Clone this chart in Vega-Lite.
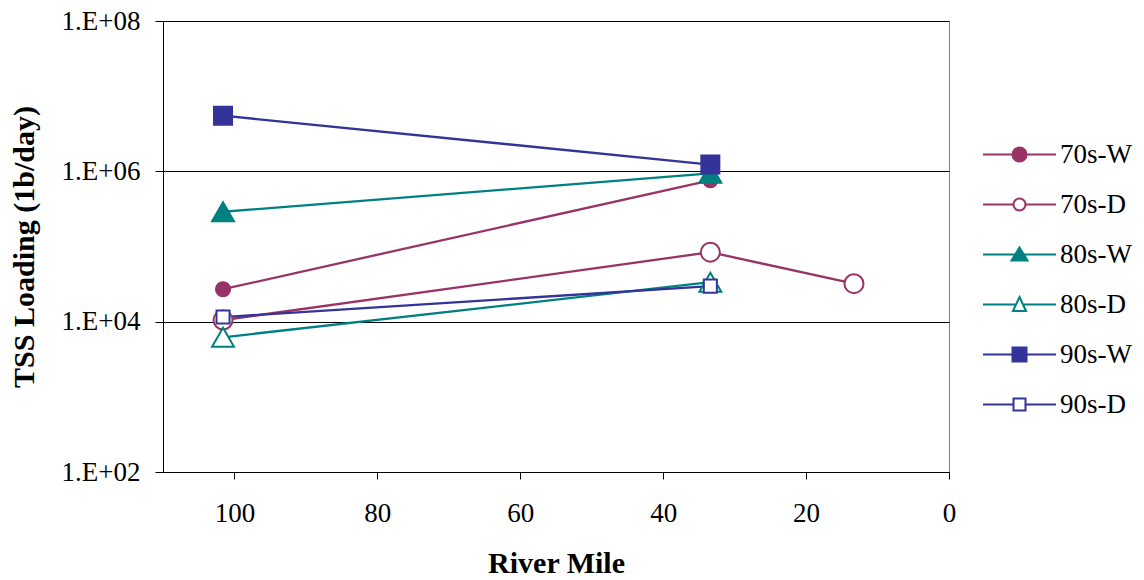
{
  "$schema": "https://vega.github.io/schema/vega-lite/v6.json",
  "autosize": "none",
  "width": 786,
  "height": 451,
  "padding": {"left": 163, "top": 21, "right": 195, "bottom": 108},
  "background": "white",
  "config": {
    "view": {"stroke": "#808080", "strokeWidth": 1},
    "font": "Liberation Serif, Times New Roman, serif",
    "axis": {
      "labelFont": "Liberation Serif, Times New Roman, serif",
      "labelFontSize": 27,
      "labelColor": "black",
      "titleFont": "Liberation Serif, Times New Roman, serif",
      "titleFontSize": 30,
      "titleFontWeight": "bold",
      "titleColor": "black",
      "domainColor": "black",
      "domainWidth": 1,
      "tickColor": "black",
      "tickWidth": 1,
      "labelFlush": false,
      "labelOverlap": false
    },
    "legend": {
      "labelFont": "Liberation Serif, Times New Roman, serif"
    }
  },
  "data": {
    "values": [
      {"series": "70s-W", "mile": 101.6, "load": 27000},
      {"series": "70s-W", "mile": 33.4, "load": 760000},
      {"series": "70s-D", "mile": 101.6, "load": 10500},
      {"series": "70s-D", "mile": 33.4, "load": 84000},
      {"series": "70s-D", "mile": 13.3, "load": 32000},
      {"series": "80s-W", "mile": 101.6, "load": 290000},
      {"series": "80s-W", "mile": 33.4, "load": 940000},
      {"series": "80s-D", "mile": 101.6, "load": 6200},
      {"series": "80s-D", "mile": 33.4, "load": 33500},
      {"series": "90s-W", "mile": 101.6, "load": 5500000},
      {"series": "90s-W", "mile": 33.4, "load": 1230000},
      {"series": "90s-D", "mile": 101.6, "load": 11500},
      {"series": "90s-D", "mile": 33.4, "load": 29700}
    ]
  },
  "encoding": {
    "x": {
      "field": "mile",
      "type": "quantitative",
      "scale": {"domain": [0, 110], "reverse": true, "nice": false, "zero": false},
      "axis": {
        "title": "River Mile",
        "values": [0, 20, 40, 60, 80, 100],
        "format": "d",
        "grid": false,
        "tickSize": 7,
        "labelPadding": 21,
        "titlePadding": 22
      }
    },
    "y": {
      "field": "load",
      "type": "quantitative",
      "scale": {"type": "log", "domain": [100, 100000000], "nice": false},
      "axis": {
        "title": "TSS Loading (1b/day)",
        "values": [100, 10000, 1000000, 100000000],
        "labelExpr": "'1.E+' + format(round(log(datum.value)/LN10), '02d')",
        "grid": true,
        "gridColor": "black",
        "gridOpacity": 1,
        "gridWidth": 1,
        "tickSize": 8,
        "labelPadding": 15,
        "titlePadding": 22
      }
    }
  },
  "layer": [
    {
      "transform": [{"filter": "false"}],
      "mark": {"type": "point", "filled": true, "strokeWidth": 2, "opacity": 1},
      "encoding": {
        "shape": {
          "field": "series",
          "type": "nominal",
          "scale": {"domain": ["70s-W", "70s-D", "80s-W", "80s-D", "90s-W", "90s-D"], "range": [
            "M-3.65,0H-0.7M0.7,0H3.65M-0.7,0A0.7,0.7,0,1,1,0.7,0A0.7,0.7,0,1,1,-0.7,0Z",
            "M-3.65,0H-0.6M0.6,0H3.65M-0.6,0A0.6,0.6,0,1,1,0.6,0A0.6,0.6,0,1,1,-0.6,0Z",
            "M-3.65,0H-0.43M0.43,0H3.65M0,-0.7L0.8,0.6L-0.8,0.6Z",
            "M-3.65,0H-0.35M0.35,0H3.65M0,-0.75L0.65,0.65L-0.65,0.65Z",
            "M-3.65,0H-0.7M0.7,0H3.65M-0.7,-0.7H0.7V0.7H-0.7Z",
            "M-3.65,0H-0.6M0.6,0H3.65M-0.6,-0.6H0.6V0.6H-0.6Z"
          ]},
          "legend": {
            "title": null, "orient": "none", "legendX": 843, "legendY": 120, "direction": "vertical",
            "labelFont": "Liberation Serif, Times New Roman, serif", "labelFontSize": 27, "labelColor": "black", "labelOffset": 27, "labelLimit": 300,
            "symbolSize": 400, "symbolStrokeWidth": 2, "rowPadding": 22, "padding": 0
          }
        },
        "fill": {
          "field": "series",
          "type": "nominal",
          "scale": {"domain": ["70s-W", "70s-D", "80s-W", "80s-D", "90s-W", "90s-D"], "range": ["#993366", "#ffffff", "#008080", "#ffffff", "#333399", "#ffffff"]},
          "legend": {
            "title": null, "orient": "none", "legendX": 843, "legendY": 120, "direction": "vertical",
            "labelFont": "Liberation Serif, Times New Roman, serif", "labelFontSize": 27, "labelColor": "black", "labelOffset": 27, "labelLimit": 300,
            "symbolSize": 400, "symbolStrokeWidth": 2, "rowPadding": 22, "padding": 0
          }
        },
        "stroke": {
          "field": "series",
          "type": "nominal",
          "scale": {"domain": ["70s-W", "70s-D", "80s-W", "80s-D", "90s-W", "90s-D"], "range": ["#993366", "#993366", "#008080", "#008080", "#333399", "#333399"]},
          "legend": {
            "title": null, "orient": "none", "legendX": 843, "legendY": 120, "direction": "vertical",
            "labelFont": "Liberation Serif, Times New Roman, serif", "labelFontSize": 27, "labelColor": "black", "labelOffset": 27, "labelLimit": 300,
            "symbolSize": 400, "symbolStrokeWidth": 2, "rowPadding": 22, "padding": 0
          }
        }
      }
    },
    {
      "mark": {"type": "line", "strokeWidth": 2.3},
      "encoding": {
        "stroke": {"field": "series", "type": "nominal"},
        "detail": {"field": "series", "type": "nominal"}
      }
    },
    {
      "transform": [{"filter": {"field": "series", "equal": "70s-W"}}],
      "mark": {"type": "point", "shape": "circle", "size": 200, "filled": true, "strokeWidth": 2, "opacity": 1},
      "encoding": {
        "fill": {"field": "series", "type": "nominal"},
        "stroke": {"field": "series", "type": "nominal"}
      }
    },
    {
      "transform": [{"filter": {"field": "series", "equal": "70s-D"}}],
      "mark": {"type": "point", "shape": "circle", "size": 361, "filled": true, "strokeWidth": 2, "opacity": 1},
      "encoding": {
        "fill": {"field": "series", "type": "nominal"},
        "stroke": {"field": "series", "type": "nominal"}
      }
    },
    {
      "transform": [{"filter": {"field": "series", "equal": "80s-W"}}],
      "mark": {"type": "point", "shape": "triangle-up", "size": 480, "filled": true, "strokeWidth": 2, "opacity": 1},
      "encoding": {
        "fill": {"field": "series", "type": "nominal"},
        "stroke": {"field": "series", "type": "nominal"}
      }
    },
    {
      "transform": [{"filter": {"field": "series", "equal": "80s-D"}}],
      "mark": {"type": "point", "shape": "triangle-up", "size": 480, "filled": true, "strokeWidth": 2, "opacity": 1},
      "encoding": {
        "fill": {"field": "series", "type": "nominal"},
        "stroke": {"field": "series", "type": "nominal"}
      }
    },
    {
      "transform": [{"filter": {"field": "series", "equal": "90s-W"}}],
      "mark": {"type": "point", "shape": "square", "size": 324, "filled": true, "strokeWidth": 2, "opacity": 1},
      "encoding": {
        "fill": {"field": "series", "type": "nominal"},
        "stroke": {"field": "series", "type": "nominal"}
      }
    },
    {
      "transform": [{"filter": {"field": "series", "equal": "90s-D"}}],
      "mark": {"type": "point", "shape": "square", "size": 170, "filled": true, "strokeWidth": 2, "opacity": 1},
      "encoding": {
        "fill": {"field": "series", "type": "nominal"},
        "stroke": {"field": "series", "type": "nominal"}
      }
    }
  ]
}
